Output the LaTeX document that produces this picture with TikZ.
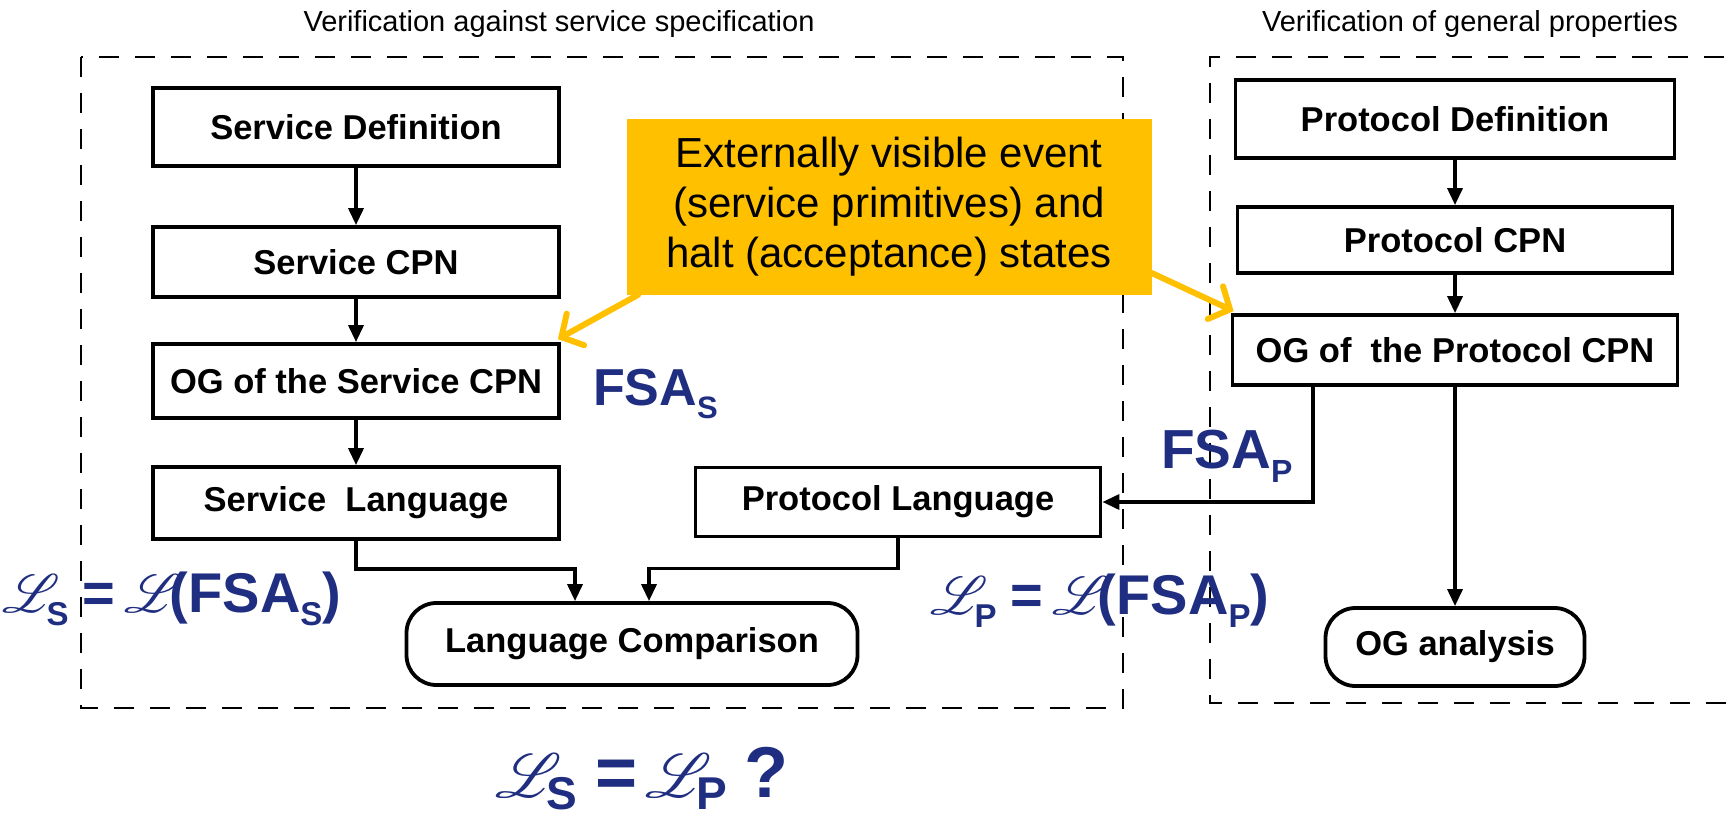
\documentclass[tikz,border=0pt]{standalone}
\usepackage{fontspec}
\setmainfont{Liberation Sans}
\usepackage{graphicx}
\usepackage{mathrsfs}
\usetikzlibrary{arrows.meta,calc}
\definecolor{navy}{RGB}{31,46,128}
\definecolor{callout}{RGB}{255,192,0}
\newcommand\lowsub[3]{\raisebox{-#2}{\fontsize{#1}{#1}\selectfont #3}}
\newcommand\scrL[1]{\scalebox{#1}{\fontsize{20}{20}\selectfont$\mathscr{L}$}}
\tikzset{
  boxnode/.style={draw,line width=3.8pt,inner sep=0pt,font=\fontsize{34.5}{40}\selectfont\bfseries},
  roundnode/.style={boxnode,rounded corners=30pt},
  titlenode/.style={font=\fontsize{29}{34}\selectfont},
  grp/.style={line width=2.3pt,dash pattern=on 20pt off 16pt},
  arr/.style={line width=3.5pt,-{Triangle[length=17pt,width=15pt]}},
  yarr/.style={line width=6pt,callout,line cap=round,-{Straight Barb[length=16pt,width=36pt,line cap=round]}},
  bluelabel/.style={navy,anchor=base west,inner sep=0pt,font=\bfseries},
}
\begin{document}
\begin{tikzpicture}[x=1pt,y=-1pt]
\clip (0,0) rectangle (1736,818);
\fill[white] (0,0) rectangle (1736,818);

% titles
\node[titlenode] (t1) at (559,24) {Verification against service specification};
\node[titlenode] (t2) at (1470,24) {Verification of general properties};

% dashed groups
\draw[grp] (81,57) rectangle (1123,708);
\draw[grp] (1760,57) -- (1210,57) -- (1210,703) -- (1760,703);

% left column
\node[boxnode,minimum width=406pt,minimum height=78pt] (sdef) at (356,127) {Service Definition};
\node[boxnode,minimum width=406pt,minimum height=70pt] (scpn) at (356,262) {Service CPN};
\node[boxnode,minimum width=406pt,minimum height=74pt] (sog) at (356,381) {OG of the Service CPN};
\node[boxnode,minimum width=406pt,minimum height=72pt] (slang) at (356,503) {Service\ \ Language};
\node[boxnode,minimum width=405pt,minimum height=69pt] (plang) at (898,502) {Protocol Language};
\node[roundnode,minimum width=451pt,minimum height=82pt] (lc) at (632,644) {Language Comparison};

% right column
\node[boxnode,minimum width=439pt,minimum height=78pt] (pdef) at (1455,119) {Protocol Definition};
\node[boxnode,minimum width=435pt,minimum height=66pt] (pcpn) at (1455,240) {Protocol CPN};
\node[boxnode,minimum width=445pt,minimum height=70pt] (pog) at (1455,350) {OG of\ \ the Protocol CPN};
\node[roundnode,minimum width=259pt,minimum height=78pt] (oga) at (1455,647) {OG analysis};

% callout
\node[fill=callout,minimum width=525pt,minimum height=175pt,inner sep=0pt,align=center,
  font=\fontsize{42}{50}\selectfont] (call) at (889,207) {Externally visible event\\(service primitives) and\\halt (acceptance) states};

% connectors
\draw[arr] (sdef.south) -- (scpn.north);
\draw[arr] (scpn.south) -- (sog.north);
\draw[arr] (sog.south) -- (slang.north);
\draw[arr] (slang.south) -- ++(0,28) -| ([xshift=-57pt]lc.north);
\draw[arr] (plang.south) -- ++(0,30) -| ([xshift=17pt]lc.north);
\draw[arr] (pdef.south) -- (pcpn.north);
\draw[arr] (pcpn.south) -- (pog.north);
\draw[arr] ([xshift=-142pt]pog.south) |- (plang.east);
\draw[arr] (pog.south) -- (oga.north);

% callout arrows
\draw[yarr] ([xshift=12pt]call.south west) -- ([xshift=-3pt,yshift=3pt]sog.north east);
\draw[yarr] ([yshift=-66pt]call.east) -- ([xshift=3pt,yshift=2pt]pog.north west);

% blue labels
\node[bluelabel,font=\fontsize{52}{52}\selectfont\bfseries] (fsas) at (593,405) {FSA\lowsub{31}{13pt}{S}};
\node[bluelabel,font=\fontsize{55}{55}\selectfont\bfseries] (fsap) at (1161,468) {FSA\lowsub{32}{14pt}{P}};
\node[bluelabel,font=\fontsize{56}{56}\selectfont\bfseries] (ls) at (2,612)
  {\scrL{2.6}\kern-13pt\lowsub{33}{13pt}{S}\kern14pt=\kern9pt\scrL{2.6}\kern-12pt(FSA\lowsub{33}{13pt}{S})};
\node[bluelabel,font=\fontsize{56}{56}\selectfont\bfseries] (lp) at (930,614)
  {\scrL{2.6}\kern-13pt\lowsub{33}{13pt}{P}\kern14pt=\kern9pt\scrL{2.6}\kern-12pt(FSA\lowsub{33}{13pt}{P})};
\node[bluelabel,font=\fontsize{64}{64}\selectfont\bfseries] (eq) at (495,797)
  {\scrL{3.0}\kern-15pt\lowsub{46}{12pt}{S}\kern18pt{\fontsize{72}{72}\selectfont=}\kern8pt\scrL{3.0}\kern-15pt\lowsub{46}{12pt}{P}\kern17pt{\fontsize{72}{72}\selectfont?}};
\end{tikzpicture}
\end{document}
